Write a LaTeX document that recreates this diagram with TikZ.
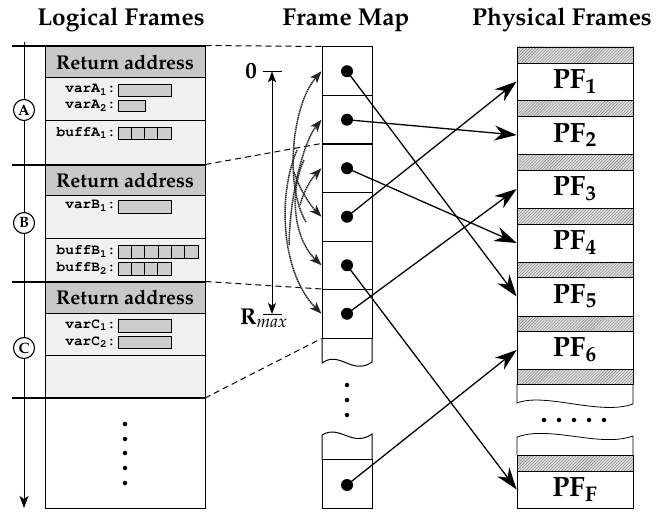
\documentclass[tikz,border=0pt]{standalone}
\usepackage[T1]{fontenc}
\usepackage{mathpazo}
\usepackage{courier}
\usetikzlibrary{arrows.meta,patterns}
\definecolor{hdr}{RGB}{200,200,200}
\definecolor{lite}{RGB}{240,240,240}
\definecolor{boxg}{RGB}{205,205,205}
\definecolor{hatchbg}{RGB}{222,222,222}
\begin{document}
\begin{tikzpicture}[x=1bp,y=-1bp,
  hdrtxt/.style={font=\fontsize{24.5}{28}\selectfont\bfseries, inner sep=0},
  hdrbox/.style={draw, fill=hdr, line width=1, minimum width=160bp, inner sep=0, font=\fontsize{20}{24}\selectfont\bfseries},
  monolbl/.style={font=\fontsize{14.5}{16}\selectfont\ttfamily\bfseries, anchor=east, inner sep=0},
  varbox/.style={draw, fill=boxg, line width=0.8},
  letter/.style={circle, draw, fill=white, line width=1.1, inner sep=0, minimum size=21bp, font=\fontsize{15}{17}\selectfont\bfseries},
  fmcell/.style={draw, line width=1, minimum width=50bp, minimum height=48.5bp, inner sep=0},
  dotn/.style={circle, fill=black, minimum size=12bp, inner sep=0},
  smalldot/.style={circle, fill=black, minimum size=4.5bp, inner sep=0},
  pfbox/.style={draw, fill=white, line width=0.8, minimum width=116bp, inner sep=0, font=\fontsize{28}{32}\selectfont\bfseries},
  hatchstrip/.style={draw, line width=0.8, preaction={fill=hatchbg}, pattern=north east lines, pattern color=gray},
  conn/.style={line width=1.3, -{Stealth[length=22bp,width=15bp,inset=7bp]}},
  swaparrow/.style={line width=1.5, black!85, dash pattern=on 1.4bp off 0.6bp, -{Stealth[length=12bp,width=9bp,inset=3bp]}},
  dimarrow/.style={line width=0.8, {Stealth[length=11bp,width=8bp,inset=2.5bp]}-{Stealth[length=11bp,width=8bp,inset=2.5bp]}},
  frameline/.style={line width=1.1},
  dashedline/.style={line width=1, dash pattern=on 6bp off 4bp}
]
\useasboundingbox (0,0) rectangle (667,512);

% ---------- headers ----------
\node[hdrtxt] (t1) at (121,20) {Logical Frames};
\node[hdrtxt] (t2) at (346,20) {Frame Map};
\node[hdrtxt] (t3) at (562,20) {Physical Frames};

% ---------- logical frames ----------
\fill[lite] (45,78) rectangle (205,398);
\draw[line width=1] (45,46) rectangle (205,508);
\node[hdrbox, minimum height=32bp] (ha) at (125,62) {Return address};
\node[hdrbox, minimum height=30bp] (hb) at (125,180) {Return address};
\node[hdrbox, minimum height=31bp] (hc) at (125,297.5) {Return address};
\draw[line width=1] (45,121) -- (205,121);
\draw[line width=1] (45,238) -- (205,238);
\draw[line width=1] (45,355) -- (205,355);

\draw[line width=1, -{Stealth[length=12bp,width=9bp,inset=3bp]}] (24,42) -- (24,508);
\draw[frameline] (12,46) -- (205,46);
\draw[frameline] (12,165) -- (205,165);
\draw[frameline] (12,282) -- (205,282);
\draw[frameline] (12,398) -- (205,398);
\node[letter] (ca) at (24,110) {A};
\node[letter] (cb) at (24,223) {B};
\node[letter] (cc) at (24,348) {C};

% frame A
\node[monolbl] (la1) at (116,90) {varA\textsubscript{1}:};
\draw[varbox] (118,84) rectangle (171,96);
\node[monolbl] (la2) at (116,106) {varA\textsubscript{2}:};
\draw[varbox] (118,100) rectangle (145,111);
\node[monolbl] (lba) at (116,133) {buffA\textsubscript{1}:};
\draw[varbox] (118,127) rectangle (171,139);
\foreach \xx in {131.25,144.5,157.75} \draw[line width=0.8] (\xx,127) -- (\xx,139);
% frame B
\node[monolbl] (lb1) at (116,206) {varB\textsubscript{1}:};
\draw[varbox] (118,200) rectangle (171,213);
\node[monolbl] (lbb1) at (116,251.5) {buffB\textsubscript{1}:};
\draw[varbox] (118,245) rectangle (198,258);
\foreach \xx in {131.33,144.67,158,171.33,184.67} \draw[line width=0.8] (\xx,245) -- (\xx,258);
\node[monolbl] (lbb2) at (116,268.5) {buffB\textsubscript{2}:};
\draw[varbox] (118,262) rectangle (171,275);
\foreach \xx in {131.25,144.5,157.75} \draw[line width=0.8] (\xx,262) -- (\xx,275);
% frame C
\node[monolbl] (lc1) at (116,325.5) {varC\textsubscript{1}:};
\draw[varbox] (118,319) rectangle (171,332);
\node[monolbl] (lc2) at (116,342) {varC\textsubscript{2}:};
\draw[varbox] (118,336) rectangle (171,348);
% dots
\foreach \yy/\nn in {424/1,439/2,453/3,468/4,483/5} \node[smalldot] (ld\nn) at (125,\yy) {};

% ---------- frame map ----------
\foreach \i/\yy in {1/71.25,2/119.75,3/168.25,4/216.75,5/265.25,6/313.75} {
  \node[fmcell] (fm\i) at (347,\yy) {};
  \node[dotn] (d\i) at (347,\yy) {};
}
\draw[line width=1] (322,338) -- (322,363) .. controls (340,350) and (352,376) .. (372,362) -- (372,338);
\draw[line width=1] (322,460) -- (322,435) .. controls (340,424) and (352,448) .. (372,434) -- (372,460);
\node[fmcell] (fm7) at (347,484) {};
\node[dotn] (d7) at (347,485) {};
\foreach \yy/\nn in {385/1,400/2,415/3} \node[smalldot] (md\nn) at (347,\yy) {};

% range markers
\coordinate (r0) at (272,71.25);
\coordinate (r1) at (272,314);
\draw[line width=0.8] (263,71.25) -- (282,71.25);
\draw[line width=0.8] (263,314) -- (282,314);
\draw[dimarrow] (r0) -- (r1);
\node[anchor=east, inner sep=0, font=\fontsize{23}{26}\selectfont\bfseries] (zero) at (257,71) {0};
\node[anchor=base west, inner sep=0, font=\fontsize{23}{26}\selectfont\bfseries] (rmax) at (240,324) {R$_{\mathit{max}}$};

% dashed correspondences
\draw[dashedline] (ha.north east) -- (fm1.north west);
\draw[dashedline] (hb.north east) -- (fm3.north west);
\draw[dashedline] (hc.north east) -- (fm6.north west);
\coordinate (cend) at (205,398);
\draw[dashedline] (cend) -- (fm6.south west);

% swap arrows
\coordinate (s1) at (306,222);
\coordinate (s2) at (289,245);
\coordinate (s3) at (300,205);
\coordinate (s4) at (294,172);
\coordinate (s5) at (304,160);
\coordinate (s6) at (297,150);
\draw[swaparrow] (s1) .. controls (284,185) and (292,105) .. (fm1.west);
\draw[swaparrow] (s2) .. controls (290,190) and (305,140) .. (fm2.west);
\draw[swaparrow] (s3) .. controls (304,190) and (312,178) .. (fm3.west);
\draw[swaparrow] (s4) .. controls (300,190) and (310,205) .. (fm4.west);
\draw[swaparrow] (s5) .. controls (288,195) and (295,240) .. (fm5.west);
\draw[swaparrow] (s6) .. controls (276,200) and (283,275) .. (fm6.west);

% ---------- physical frames ----------
\draw[hatchstrip] (517,47) rectangle (633,63);
\draw[hatchstrip] (517,100) rectangle (633,116);
\draw[hatchstrip] (517,154) rectangle (633,170);
\draw[hatchstrip] (517,208) rectangle (633,224);
\draw[hatchstrip] (517,262) rectangle (633,277);
\draw[hatchstrip] (517,316) rectangle (633,331);
\draw[hatchstrip] (517,369) rectangle (633,384);
\draw[hatchstrip] (517,455) rectangle (633,471);
\node[pfbox, minimum height=37bp] (pf1) at (575,81.5) {PF$_{\mathbf{1}}$};
\node[pfbox, minimum height=38bp] (pf2) at (575,135) {PF$_{\mathbf{2}}$};
\node[pfbox, minimum height=38bp] (pf3) at (575,189) {PF$_{\mathbf{3}}$};
\node[pfbox, minimum height=38bp] (pf4) at (575,243) {PF$_{\mathbf{4}}$};
\node[pfbox, minimum height=39bp] (pf5) at (575,296.5) {PF$_{\mathbf{5}}$};
\node[pfbox, minimum height=38bp] (pf6) at (575,350) {PF$_{\mathbf{6}}$};
\node[pfbox, minimum height=37bp] (pff) at (575,489.5) {PF$_{\mathbf{F}}$};
\draw[line width=0.8] (517,384) -- (517,403) .. controls (545,392) and (600,416) .. (633,404) -- (633,384);
\draw[line width=0.8] (517,455) -- (517,437) .. controls (550,425) and (600,448) .. (633,436) -- (633,455);
\foreach \xx/\nn in {544/1,559/2,574/3,589/4,604/5} \node[smalldot] (pd\nn) at (\xx,420) {};

% ---------- mapping arrows ----------
\draw[conn] (d1.center) -- (pf5.west);
\draw[conn] (d2.center) -- (pf2.west);
\draw[conn] (d3.center) -- (pf4.west);
\draw[conn] (d4.center) -- (pf1.west);
\draw[conn] (d5.center) -- (pff.west);
\draw[conn] (d6.center) -- (pf3.west);
\draw[conn] (d7.center) -- (pf6.west);
\end{tikzpicture}
\end{document}
